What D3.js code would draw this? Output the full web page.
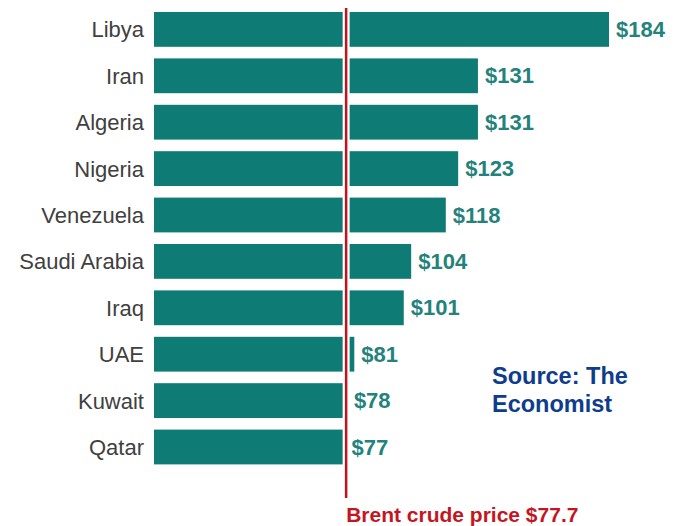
<!DOCTYPE html>
<html>
<head>
<meta charset="utf-8">
<script src="https://cdn.jsdelivr.net/npm/d3@7"></script>
<style>
  html, body { margin: 0; padding: 0; background: #ffffff; }
  svg { display: block; }
</style>
</head>
<body>
<svg id="chart" width="683" height="526"></svg>
<script>
// Fiscal break-even oil price by country, US$ per barrel
const countries = ["Libya", "Iran", "Algeria", "Nigeria", "Venezuela", "Saudi Arabia", "Iraq", "UAE", "Kuwait", "Qatar"];
const breakEven = [184, 131, 131, 123, 118, 104, 101, 81, 78, 77];
const brentPrice = 77.7;
const brentLabel = "Brent crude price $77.7";
const sourceLines = ["Source: The", "Economist"];

const data = countries.map((c, i) => ({ country: c, value: breakEven[i] }));

const svg = d3.select("#chart");

const x = d3.scaleLinear().domain([0, 184]).range([154, 609]);
const y = d3.scaleBand().domain(countries).range([0.4, 476]).padding(0.25);

const teal = "#0f7b75";
const font = "'Liberation Sans', Arial, Helvetica, sans-serif";

// bars
svg.append("g").selectAll("rect")
  .data(data).join("rect")
  .attr("x", x(0))
  .attr("y", d => y(d.country))
  .attr("width", d => x(d.value) - x(0))
  .attr("height", y.bandwidth())
  .attr("fill", teal);

// country names
svg.append("g").selectAll("text")
  .data(data).join("text")
  .attr("x", x(0) - 10)
  .attr("y", d => y(d.country) + y.bandwidth() / 2 + 8)
  .attr("text-anchor", "end")
  .attr("font-family", font)
  .attr("font-size", 22)
  .attr("fill", "#404040")
  .text(d => d.country);

// value labels
svg.append("g").selectAll("text")
  .data(data).join("text")
  .attr("x", d => x(d.value) + 7)
  .attr("y", d => y(d.country) + y.bandwidth() / 2 + 7.5)
  .attr("font-family", font)
  .attr("font-size", 22)
  .attr("font-weight", "bold")
  .attr("fill", "#23827b")
  .text(d => "$" + d.value);

// Brent reference line with a white halo
const bx = x(brentPrice);
svg.append("line")
  .attr("x1", bx).attr("x2", bx)
  .attr("y1", 8).attr("y2", 498)
  .attr("stroke", "#ffffff").attr("stroke-width", 7);
svg.append("line")
  .attr("x1", bx).attr("x2", bx)
  .attr("y1", 8).attr("y2", 498)
  .attr("stroke", "#c0141c").attr("stroke-width", 2.5);

svg.append("text")
  .attr("x", bx)
  .attr("y", 522)
  .attr("font-family", font)
  .attr("font-size", 21)
  .attr("font-weight", "bold")
  .attr("fill", "#c4161f")
  .text(brentLabel);

// source note
const src = svg.append("text")
  .attr("font-family", font)
  .attr("font-size", 23.5)
  .attr("font-weight", "bold")
  .attr("fill", "#0d3d8c");
src.selectAll("tspan")
  .data(sourceLines).join("tspan")
  .attr("x", 492)
  .attr("y", (d, i) => 384 + i * 28)
  .text(d => d);
</script>
</body>
</html>
